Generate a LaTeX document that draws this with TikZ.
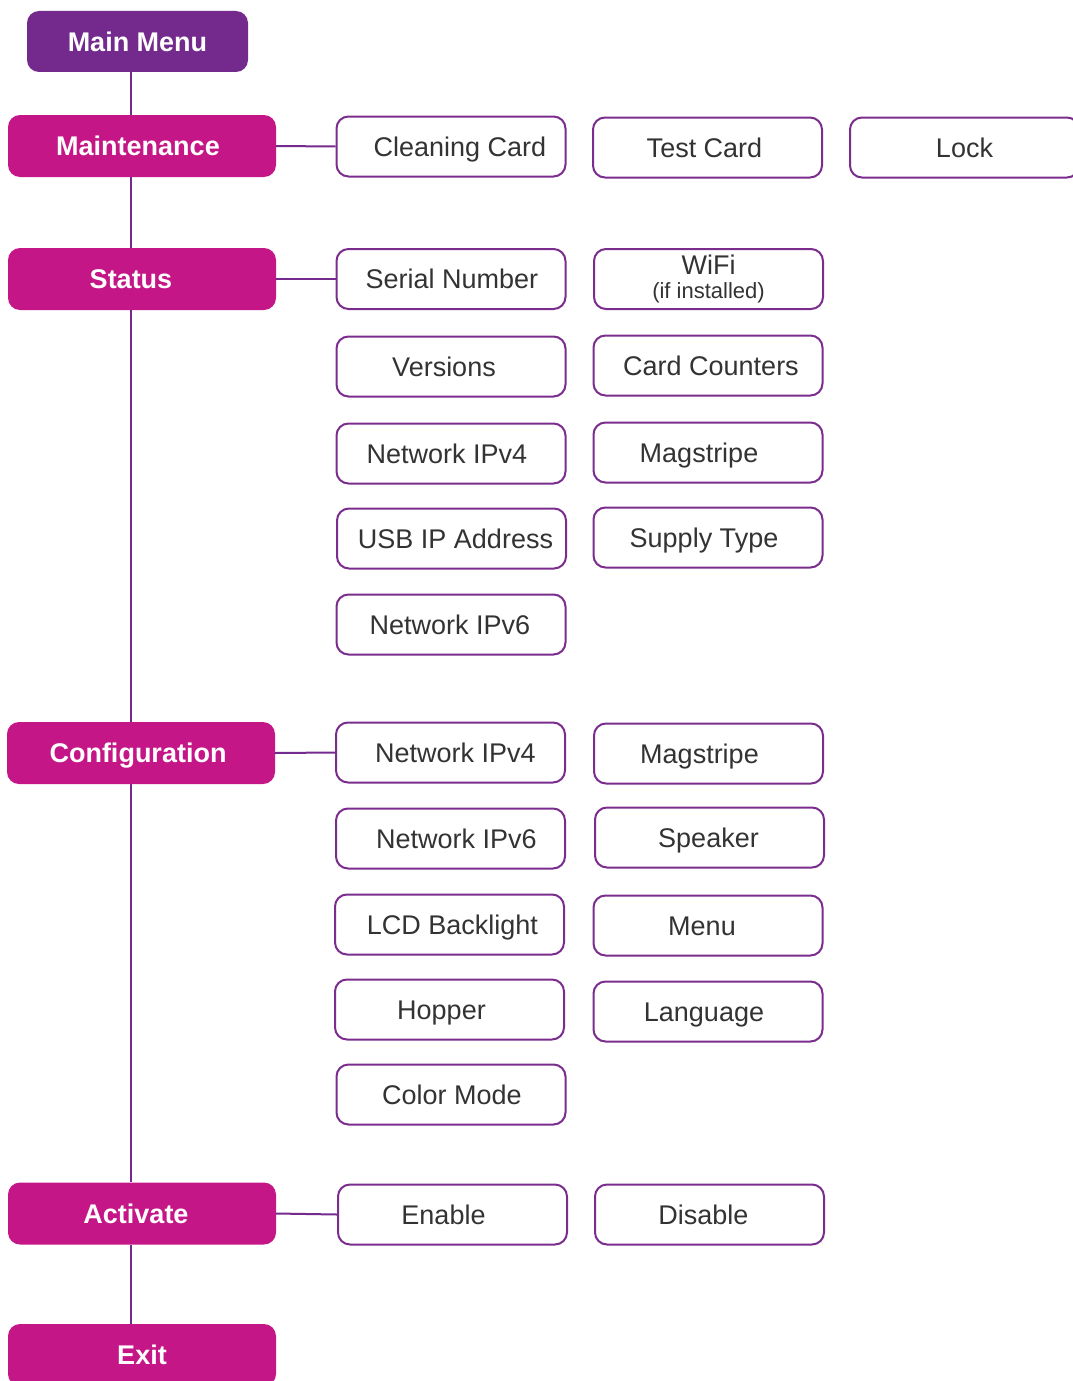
\documentclass[tikz,border=0pt]{standalone}
\usepackage{fontspec}
\setmainfont{Liberation Sans}
\definecolor{mmpurple}{RGB}{115,42,140}
\definecolor{mag}{RGB}{197,22,136}
\definecolor{bord}{RGB}{123,45,142}
\definecolor{txt}{RGB}{51,51,51}
\newcommand{\shx}[2]{\hspace*{#1pt}#2\hspace*{-#1pt}}
\tikzset{
  mainbox/.style={rectangle, rounded corners=12pt, fill=mag, draw=none, inner sep=0pt,
    minimum width=268pt, minimum height=62pt, text=white, text height=19.5pt, text depth=0pt,
    font=\bfseries\fontsize{27}{32}\selectfont},
  subbox/.style={rectangle, rounded corners=12pt, draw=bord, line width=2pt, fill=white, inner sep=0pt,
    minimum width=229pt, minimum height=60pt, text=txt, text height=19.5pt, text depth=0pt,
    font=\fontsize{27}{32}\selectfont},
  conn/.style={draw=mmpurple, line width=2pt}
}
\begin{document}
\begin{tikzpicture}[x={(1pt,0)}, y={(0,-1pt)}]
\useasboundingbox (0,0) rectangle (1073,1381);
% main column
\node[mainbox, fill=mmpurple, minimum width=221pt, minimum height=61pt] (mm) at (137.5,41.5) {Main Menu};
\node[mainbox] (maint) at (142,146) {\shx{-4}{Maintenance}};
\node[mainbox] (status) at (142,279) {\shx{-11}{Status}};
\node[mainbox] (config) at (141,753) {\shx{-3}{Configuration}};
\node[mainbox] (activ) at (142,1213.5) {\shx{-6}{Activate}};
\node[mainbox] (exit) at (142,1355) {Exit};
\coordinate (sp) at (131,0);
% column 1
\node[subbox] (cc) at (451,146.5) {\shx{9}{Cleaning Card}};
\node[subbox] (sn) at (451,279) {\shx{1}{Serial Number}};
\node[subbox] (ver) at (451,366.5) {\shx{-7}{Versions}};
\node[subbox] (ipa) at (451,453.5) {\shx{-4}{Network IPv4}};
\node[subbox] (usb) at (451.5,538.5) {\shx{4}{USB IP Address}};
\node[subbox] (ipb) at (451,624.5) {\shx{-1}{Network IPv6}};
\node[subbox] (cipa) at (450.5,752.5) {\shx{5}{Network IPv4}};
\node[subbox] (cipb) at (450.5,838.5) {\shx{6}{Network IPv6}};
\node[subbox] (lcd) at (449.5,924.5) {\shx{3}{LCD Backlight}};
\node[subbox] (hop) at (449.5,1009.5) {\shx{-8}{Hopper}};
\node[subbox] (colm) at (451,1094.5) {\shx{1}{Color Mode}};
\node[subbox] (en) at (452.5,1214.5) {\shx{-9}{Enable}};
% column 2
\node[subbox] (tc) at (707.5,147.5) {\shx{-3}{Test Card}};
\node[subbox, align=center, text height=, text depth=, font=\fontsize{27}{27}\selectfont] (wifi) at (708.5,279) {WiFi\\[-3pt]{\fontsize{22}{24}\selectfont(if installed)}};
\node[subbox] (cnt) at (708,365.5) {\shx{3}{Card Counters}};
\node[subbox] (mgs) at (708,452.5) {\shx{-9}{Magstripe}};
\node[subbox] (sup) at (708,537.5) {\shx{-4}{Supply Type}};
\node[subbox] (cmgs) at (708.5,753.5) {\shx{-9}{Magstripe}};
\node[subbox] (spk) at (709.5,837.5) {\shx{-1}{Speaker}};
\node[subbox] (menu) at (708,925.5) {\shx{-6}{Menu}};
\node[subbox] (lang) at (708,1011.5) {\shx{-4}{Language}};
\node[subbox] (dis) at (709.5,1214.5) {\shx{-6}{Disable}};
% column 3
\node[subbox] (lock) at (964.5,147.5) {Lock};
% connectors
\draw[conn] (mm.south -| sp) -- (maint.north -| sp);
\draw[conn] (maint.south -| sp) -- (status.north -| sp);
\draw[conn] (status.south -| sp) -- (config.north -| sp);
\draw[conn] (config.south -| sp) -- (activ.north -| sp);
\draw[conn] (activ.south -| sp) -- (exit.north -| sp);
\draw[conn] (maint.east) -- (cc.west);
\draw[conn] (status.east) -- (sn.west);
\draw[conn] (config.east) -- (cipa.west);
\draw[conn] (activ.east) -- (en.west);
\end{tikzpicture}
\end{document}
